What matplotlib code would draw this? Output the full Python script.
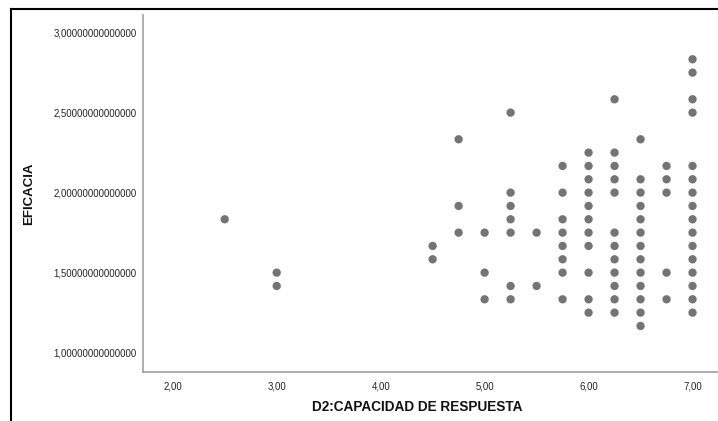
import matplotlib
matplotlib.use("Agg")
import matplotlib.pyplot as plt
from matplotlib.lines import Line2D
from matplotlib.ticker import FixedLocator, FuncFormatter

plt.rcParams['font.family'] = ['Liberation Sans', 'DejaVu Sans']

# x values (D2: capacidad de respuesta) and y values (eficacia), in twelfths
x_vals = [2.5,
          3.0, 3.0,
          4.5, 4.5,
          4.75, 4.75, 4.75,
          5.0, 5.0, 5.0,
          5.25, 5.25, 5.25, 5.25, 5.25, 5.25, 5.25,
          5.5, 5.5,
          5.75, 5.75, 5.75, 5.75, 5.75, 5.75, 5.75, 5.75,
          6.0, 6.0, 6.0, 6.0, 6.0, 6.0, 6.0, 6.0, 6.0, 6.0, 6.0,
          6.25, 6.25, 6.25, 6.25, 6.25, 6.25, 6.25, 6.25, 6.25, 6.25, 6.25, 6.25,
          6.5, 6.5, 6.5, 6.5, 6.5, 6.5, 6.5, 6.5, 6.5, 6.5, 6.5, 6.5, 6.5,
          6.75, 6.75, 6.75, 6.75, 6.75,
          7.0, 7.0, 7.0, 7.0, 7.0, 7.0, 7.0, 7.0, 7.0, 7.0, 7.0, 7.0, 7.0, 7.0, 7.0, 7.0]
y_twelfths = [22,
              18, 17,
              20, 19,
              28, 23, 21,
              21, 18, 16,
              30, 24, 23, 22, 21, 17, 16,
              21, 17,
              26, 24, 22, 21, 20, 19, 18, 16,
              27, 26, 25, 24, 23, 22, 21, 20, 18, 16, 15,
              31, 27, 26, 25, 24, 21, 20, 19, 18, 17, 16, 15,
              28, 25, 24, 23, 22, 21, 20, 19, 18, 17, 16, 15, 14,
              26, 25, 24, 18, 16,
              34, 33, 31, 30, 26, 25, 24, 23, 22, 21, 20, 19, 18, 17, 16, 15]
y_vals = [v / 12.0 for v in y_twelfths]

x_ticks = [2.0, 3.0, 4.0, 5.0, 6.0, 7.0]
y_ticks = [1.0, 1.5, 2.0, 2.5, 3.0]

W, H = 718, 421
fig = plt.figure(figsize=(W / 100, H / 100), dpi=100)
ax = fig.add_axes([143 / W, 1 - 372 / H, 1 - 143 / W, (372 - 15) / H])

ax.scatter(x_vals, y_vals, s=36, color='#747474', edgecolors='none', zorder=3)

ax.set_xlim(1.714, 7.245)
ax.set_ylim(0.879, 3.11)
ax.xaxis.set_major_locator(FixedLocator(x_ticks))
ax.yaxis.set_major_locator(FixedLocator(y_ticks))
ax.xaxis.set_major_formatter(FuncFormatter(lambda v, p: f"{v:.2f}".replace('.', ',')))
ax.yaxis.set_major_formatter(FuncFormatter(lambda v, p: f"{v:.14f}".replace('.', ',')))
ax.tick_params(axis='both', length=0, labelsize=6.9, colors='#222222')
ax.tick_params(axis='x', pad=6.5)
ax.tick_params(axis='y', pad=4.5)

for s in ['top', 'right']:
    ax.spines[s].set_visible(False)
for s in ['left', 'bottom']:
    ax.spines[s].set_color('#a0a0a0')
    ax.spines[s].set_linewidth(1.2)

ax.set_ylabel('EFICACIA', fontsize=9.5, fontweight='bold', color='#111111')
ax.yaxis.set_label_coords((35 - 143) / (W - 143), 0.5)

fig.text(417 / W, 1 - 407 / H, 'D2:CAPACIDAD DE RESPUESTA', fontsize=9.8,
         fontweight='bold', color='#111111', ha='center', va='center')

# outer frame lines
fig.add_artist(Line2D([10.5 / W, 10.5 / W], [0, 1 - 8.5 / H], transform=fig.transFigure,
                      color='black', linewidth=1.5))
fig.add_artist(Line2D([10.5 / W, 1], [1 - 8.5 / H, 1 - 8.5 / H], transform=fig.transFigure,
                      color='black', linewidth=1.5))

fig.savefig('out.png', dpi=100)
